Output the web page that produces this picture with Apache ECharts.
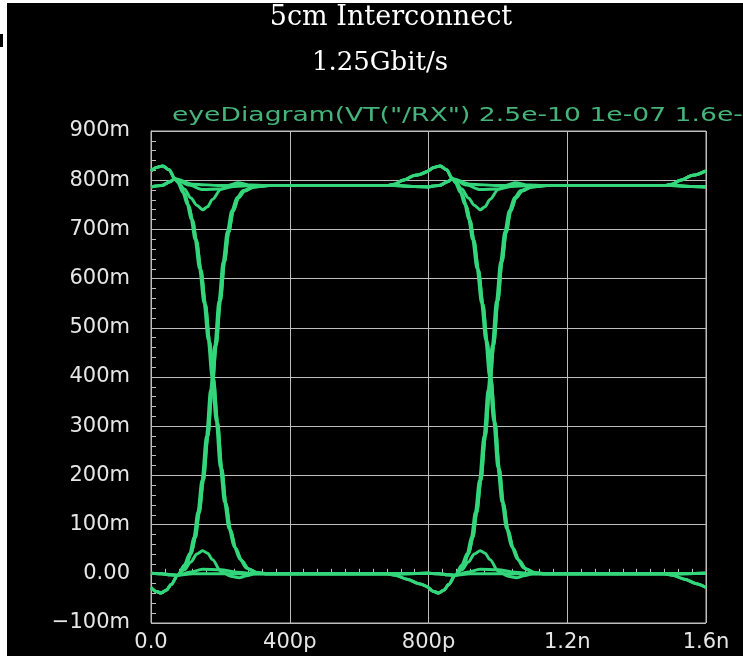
<!DOCTYPE html>
<html>
<head>
<meta charset="utf-8">
<title>5cm Interconnect - eye diagram</title>
<script src="https://cdn.jsdelivr.net/npm/echarts@6/dist/echarts.min.js"></script>
<style>
	html, body { margin: 0; padding: 0; background: #fff; }
	#chart { width: 743px; height: 656px; }
</style>
</head>
<body>
<div id="chart"></div>
<script>
	// time in ps, voltage in mV, one bit period (800ps)
	var unitInterval = 800;

	var xTicks = [0, 400, 800, 1200, 1600];
	var xTickLabels = ['0.0', '400p', '800p', '1.2n', '1.6n'];
	var yTicks = [-100, 0, 100, 200, 300, 400, 500, 600, 700, 800, 900];
	var yTickLabels = ['\u2212100m', '0.00', '100m', '200m', '300m', '400m', '500m', '600m', '700m', '800m', '900m'];

	// start of the bit (left of the crossing)
	var startOvershoot = [[0, 819], [16, 826], [34, 829], [52, 821], [69, 803]];
	var startHigh = [[0, 786], [30, 789], [55, 797], [69, 803]];
	var startUndershoot = [[0, -28], [15, -36], [29, -39], [45, -33], [58, -22], [77, -3]];
	var startLow = [[0, 1], [30, 0], [55, -2], [77, -3]];

	// edges and the small bumps around the crossing
	var fallA = [[77, 795], [92, 775], [105, 750], [116, 720], [127, 680], [140, 620], [153, 550], [165, 475], [176, 400], [188, 310], [200, 215], [212, 145], [225, 92], [240, 55], [256, 30], [275, 12], [300, 3], [330, 0]];
	var fallB = [[80, 795], [96, 773], [109, 748], [120, 718], [131, 678], [144, 618], [157, 548], [169, 472], [180, 398], [192, 308], [204, 214], [216, 143], [229, 90], [244, 52], [261, 27], [281, 10], [306, 2], [336, 0]];
	var riseA = [[96, 18], [112, 42], [124, 75], [135, 125], [147, 190], [160, 280], [172, 375], [184, 465], [196, 555], [208, 635], [220, 695], [233, 738], [248, 765], [266, 779], [292, 786], [336, 789]];
	var riseB = [[100, 17], [116, 41], [128, 74], [139, 124], [151, 189], [164, 279], [176, 374], [188, 464], [200, 554], [212, 634], [224, 694], [237, 737], [252, 764], [270, 778], [297, 786], [342, 789]];
	var highDip = [[77, 798], [96, 782], [115, 764], [132, 749], [149, 740], [163, 746], [177, 761], [201, 781], [230, 791], [250, 795], [288, 790], [330, 789]];
	var highSag = [[77, 800], [110, 790], [149, 781], [200, 782], [240, 787], [290, 789]];
	var highFlat = [[120, 792], [200, 789]];
	var lowBump = [[96, 8], [115, 24], [132, 40], [149, 47], [163, 42], [177, 29], [201, 5], [230, -5], [254, -8], [275, -4], [300, 0]];
	var lowLift = [[110, 3], [149, 9], [200, 8], [250, 3], [300, 0]];
	var lowFlat = [[120, 0], [200, 0]];

	// end of the bit (run-up to the next one)
	var endHigh = [[400, 789], [700, 789], [760, 787], [800, 786]];
	var endOvershoot = [[400, 789], [680, 789], [702, 792], [726, 800], [762, 810], [800, 819]];
	var endLow = [[400, 0], [700, 0], [800, 1]];
	var endUndershoot = [[400, 0], [680, 0], [704, -3], [738, -11], [772, -20], [800, -28]];

	var traces = [
		[startOvershoot, fallA, endLow],
		[startHigh, fallB, endUndershoot],
		[startOvershoot, fallB, endLow],
		[startOvershoot, highDip, endHigh],
		[startHigh, highSag, endOvershoot],
		[startHigh, highFlat, endHigh],
		[startUndershoot, riseA, endOvershoot],
		[startLow, riseB, endHigh],
		[startUndershoot, riseB, endOvershoot],
		[startUndershoot, lowBump, endLow],
		[startLow, lowLift, endUndershoot],
		[startLow, lowFlat, endLow]
	];

	var series = [];
	for (var k = 0; k < 2; k++) {
		traces.forEach(function(parts) {
			var data = [];
			parts.forEach(function(p) {
				p.forEach(function(pt) {
					data.push([pt[0] + k * unitInterval, pt[1]]);
				});
			});
			series.push({
				type: 'line',
				data: data,
				showSymbol: false,
				smooth: 0.3,
				smoothMonotone: 'x',
				silent: true,
				lineStyle: { color: '#33d67a', width: 3 }
			});
		});
	}

	var myChart = echarts.init(document.getElementById('chart'), null, { renderer: 'canvas' });
	var option = {
		animation: false,
		backgroundColor: '#000',
		grid: {
			left: 151,
			right: 37,
			top: 131,
			bottom: 33,
			show: true,
			borderColor: '#bdbdbd',
			borderWidth: 1,
			containLabel: false,
			outerBoundsMode: 'none'
		},
		graphic: [
			{ type: 'rect', shape: { x: 0, y: 0, width: 743, height: 3 }, style: { fill: '#fff' }, z: 100 },
			{ type: 'rect', shape: { x: 0, y: 0, width: 7, height: 656 }, style: { fill: '#fff' }, z: 100 },
			{ type: 'rect', shape: { x: 0, y: 34, width: 3, height: 13 }, style: { fill: '#000' }, z: 101 },
			{
				type: 'text', x: 391, y: 18, z: 100,
				style: { text: '5cm Interconnect', fill: '#fff', font: '27px "DejaVu Serif"', align: 'center', verticalAlign: 'middle' }
			},
			{
				type: 'text', x: 380, y: 63, z: 100,
				style: { text: '1.25Gbit/s', fill: '#fff', font: '26px "DejaVu Serif"', align: 'center', verticalAlign: 'middle' }
			},
			{
				type: 'text', x: 172, y: 116, z: 100, scaleX: 1.4,
				style: { text: 'eyeDiagram(VT("/RX") 2.5e-10 1e-07 1.6e-', fill: '#45b47a', font: '19px "DejaVu Sans"', align: 'left', verticalAlign: 'middle' }
			}
		],
		xAxis: {
			type: 'value',
			min: 0,
			max: 1600,
			interval: 400,
			axisLine: { show: true, lineStyle: { color: '#bdbdbd', width: 1 } },
			axisTick: { show: true, inside: true, length: 5, lineStyle: { color: '#bdbdbd' } },
			minorTick: { show: true, splitNumber: 10, length: 5, lineStyle: { color: '#bdbdbd' } },
			splitLine: { show: true, lineStyle: { color: '#bdbdbd', width: 1 } },
			axisLabel: {
				color: '#e6e6e6',
				fontFamily: 'DejaVu Sans',
				fontSize: 21,
				margin: 9,
				showMinLabel: true,
				showMaxLabel: true,
				formatter: function(v) {
					var i = xTicks.indexOf(v);
					return i >= 0 ? xTickLabels[i] : '';
				}
			}
		},
		yAxis: {
			type: 'value',
			min: -100,
			max: 900,
			interval: 100,
			axisLine: { show: true, lineStyle: { color: '#bdbdbd', width: 1 } },
			axisTick: { show: true, inside: true, length: 5, lineStyle: { color: '#bdbdbd' } },
			minorTick: { show: true, splitNumber: 5, length: 5, lineStyle: { color: '#bdbdbd' } },
			splitLine: { show: true, lineStyle: { color: '#bdbdbd', width: 1 } },
			axisLabel: {
				color: '#e6e6e6',
				fontFamily: 'DejaVu Sans',
				fontSize: 21,
				margin: 21,
				showMinLabel: true,
				showMaxLabel: true,
				formatter: function(v) {
					var i = yTicks.indexOf(v);
					return i >= 0 ? yTickLabels[i] : '';
				}
			}
		},
		series: series
	};
	myChart.setOption(option);
</script>
</body>
</html>
